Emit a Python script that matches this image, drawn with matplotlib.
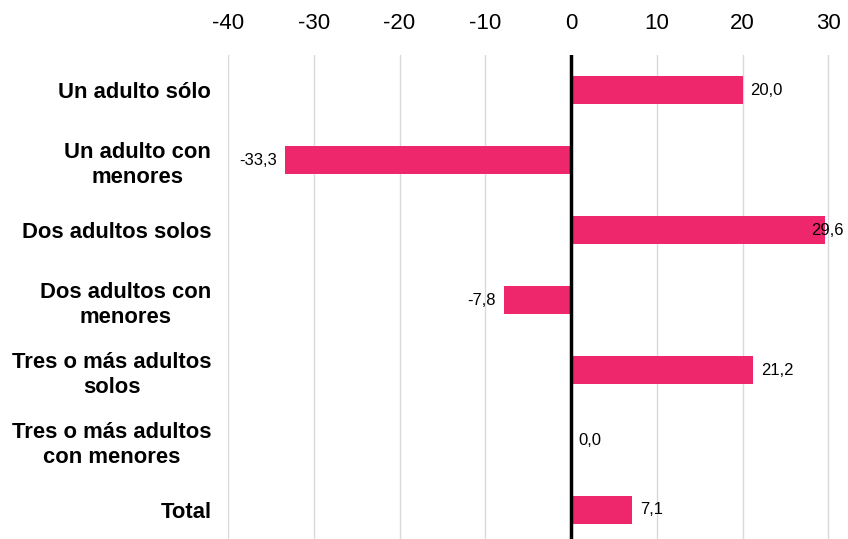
import matplotlib.pyplot as plt
import numpy as np

categorias = ["Un adulto sólo", "Un adulto con\nmenores", "Dos adultos solos",
              "Dos adultos con\nmenores", "Tres o más adultos\nsolos",
              "Tres o más adultos\ncon menores", "Total"]
valores = [20.0, -33.3, 29.6, -7.8, 21.2, 0.0, 7.1]
ticks = [-40, -30, -20, -10, 0, 10, 20, 30]

plt.rcParams['font.family'] = ['Liberation Sans', 'DejaVu Sans']

fig = plt.figure(figsize=(8.48, 5.39), dpi=100)
ax = fig.add_axes([228 / 848, -6 / 539, (837 - 228) / 848, (545 - 55) / 539])

y = np.arange(len(categorias))
ax.barh(y, valores, height=0.41, color='#EE266B', zorder=3)

ax.set_xlim(-40, 31)
ax.set_ylim(len(categorias) - 0.5, -0.5)
ax.set_xticks(ticks)
ax.set_xticklabels([str(t) for t in ticks], fontsize=16)
ax.xaxis.tick_top()
ax.tick_params(axis='x', length=0, pad=15)
ax.set_yticks(y)
ax.set_yticklabels(categorias, fontsize=15.8, fontweight='bold',
                   multialignment='center', linespacing=1.3)
ax.tick_params(axis='y', length=0, pad=12)

ax.grid(axis='x', color='#d9d9d9', linewidth=1, zorder=0)
ax.axvline(0, color='black', linewidth=2.5, zorder=4)
for s in ax.spines.values():
    s.set_visible(False)

for yi, v in zip(y, valores):
    txt = f"{v:.1f}".replace('.', ',')
    if v < 0:
        ax.text(v - 1.0, yi, txt, ha='right', va='center', fontsize=12, zorder=5)
    else:
        ax.text(min(v + 0.9, 28.0), yi, txt, ha='left', va='center', fontsize=12, zorder=5)

fig.savefig('out.png', dpi=100)
